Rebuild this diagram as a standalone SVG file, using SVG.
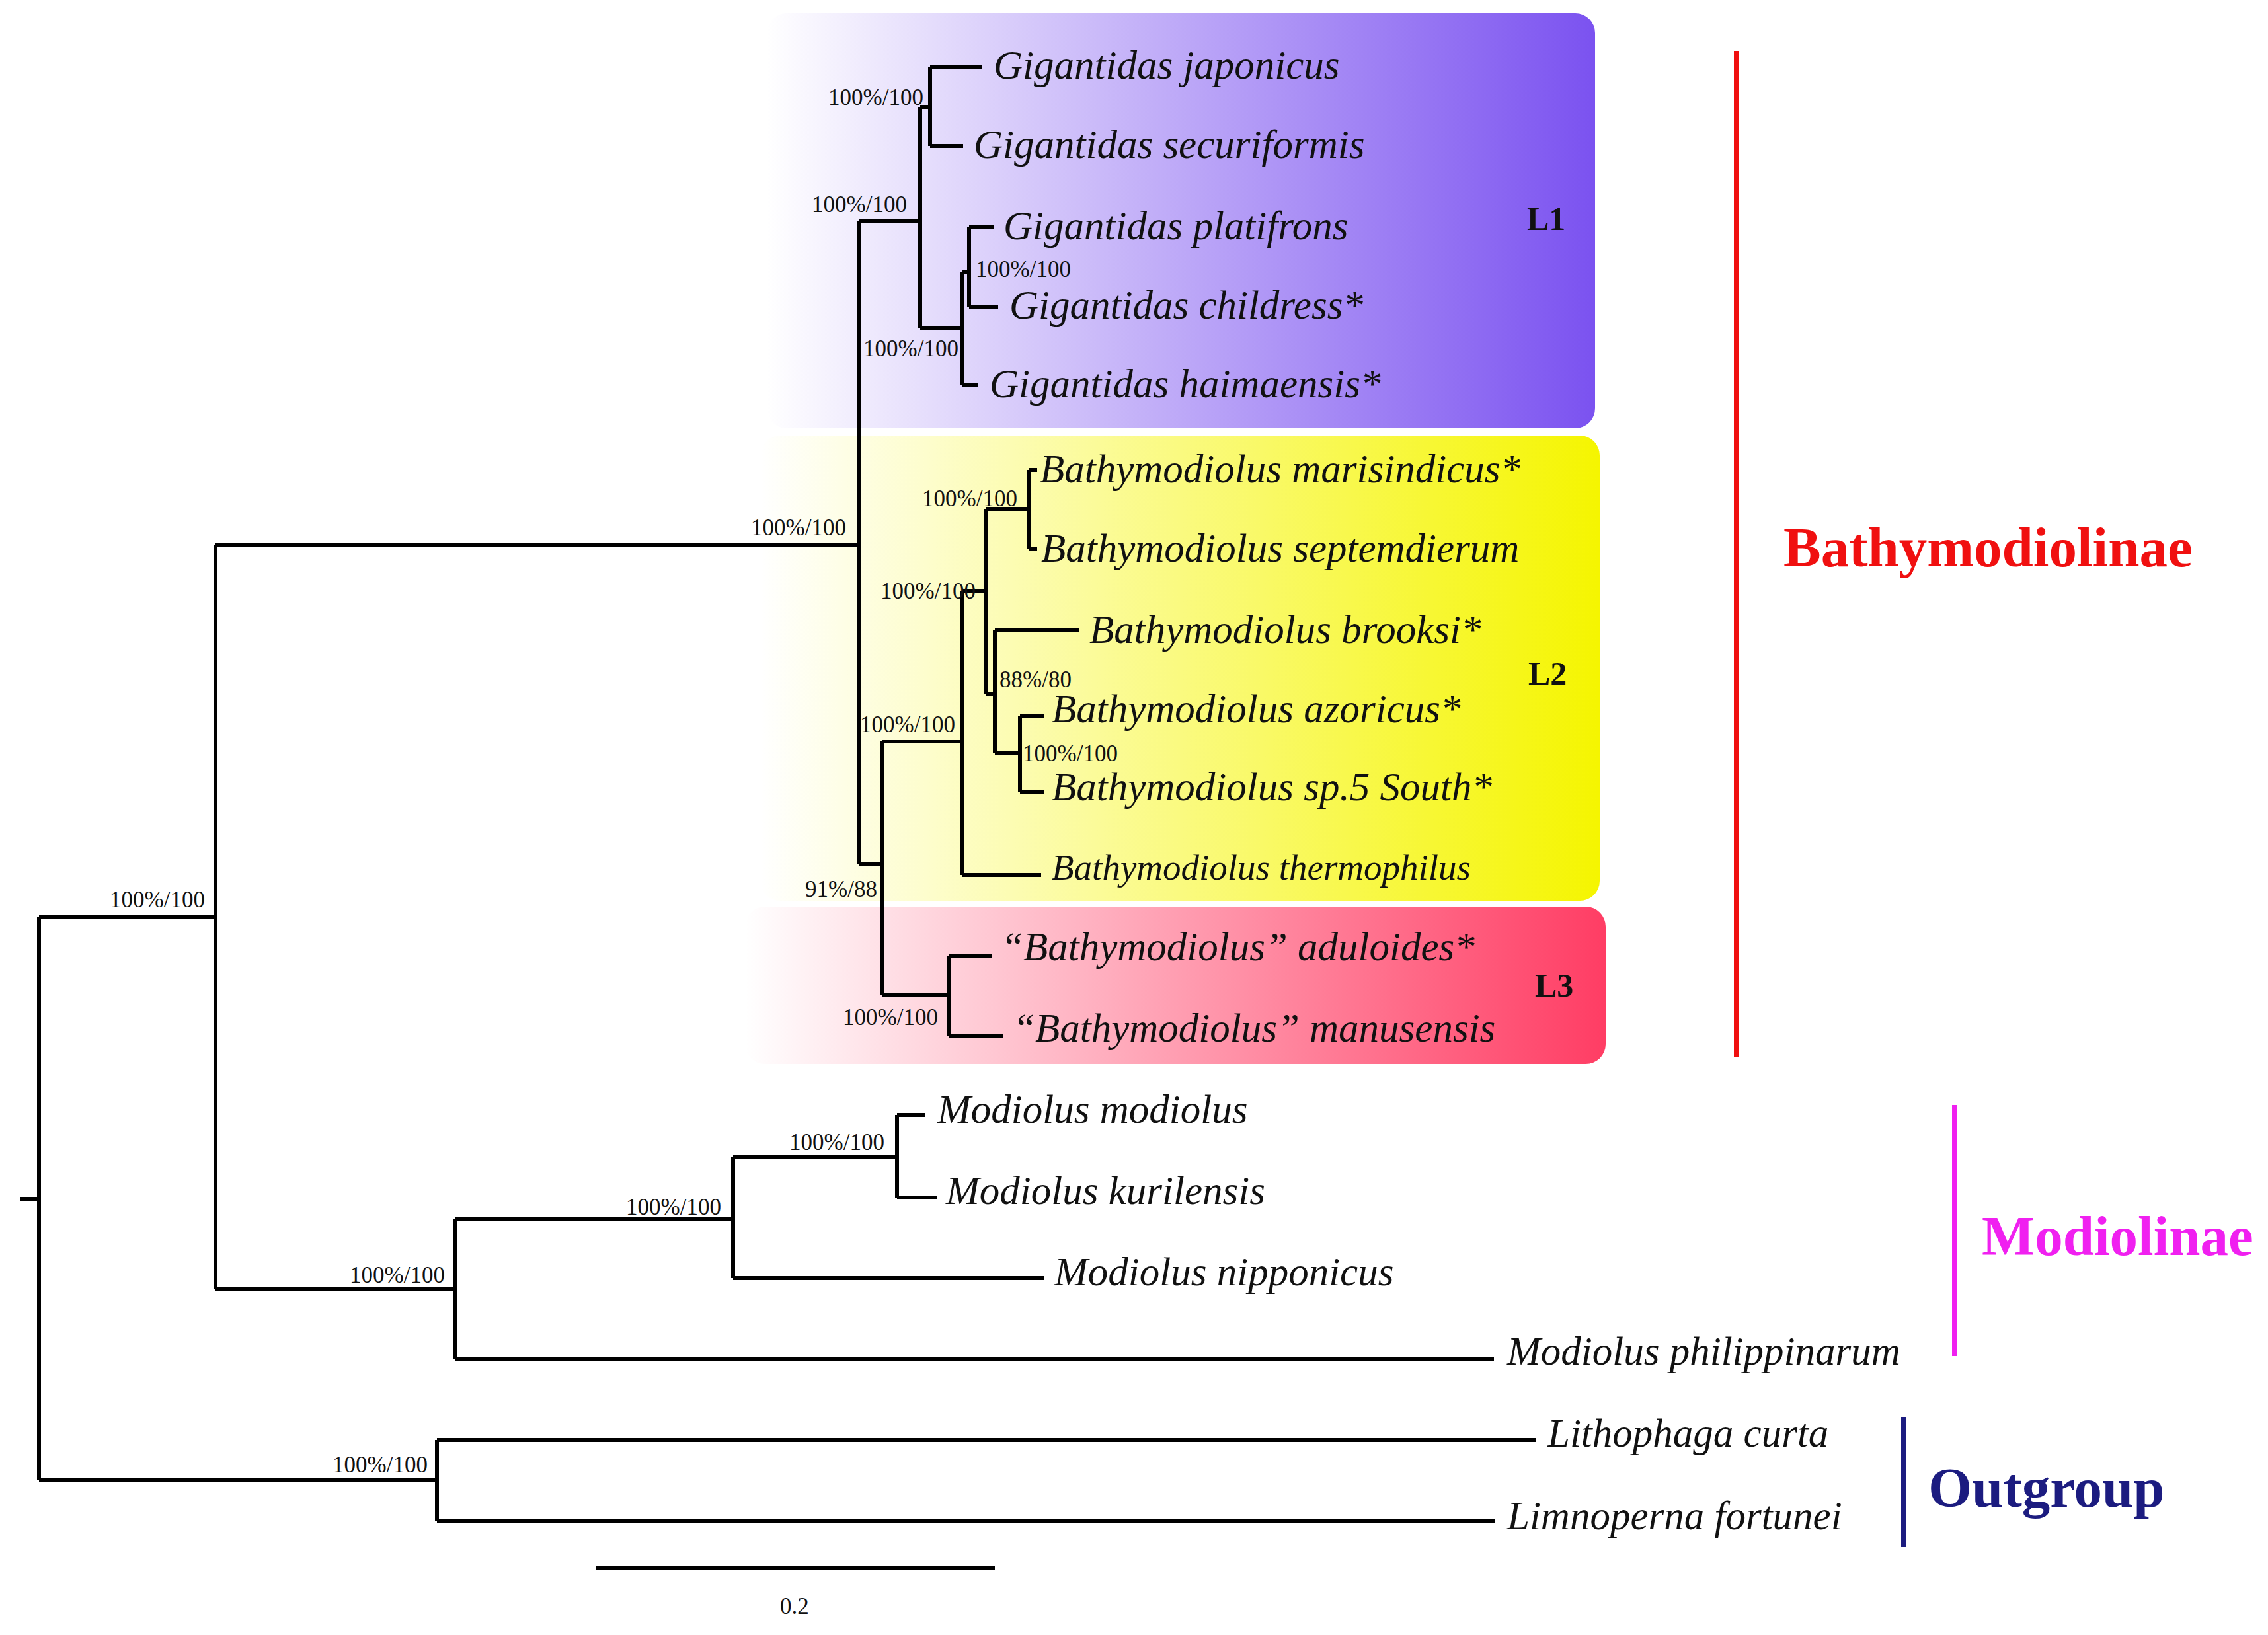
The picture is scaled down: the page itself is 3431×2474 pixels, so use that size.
<svg xmlns="http://www.w3.org/2000/svg" width="3431" height="2474" viewBox="0 0 3431 2474">
<style>
.t{font-family:"Liberation Serif",serif;font-style:italic;font-size:61px;fill:#111}
.s{font-family:"Liberation Serif",serif;font-size:35px;fill:#111}
.c{font-family:"Liberation Serif",serif;font-weight:bold;font-size:50px;fill:#111}
.e path{fill:none;stroke:#000;stroke-width:6}
.b{font-family:"Liberation Serif",serif;font-weight:bold;font-size:85px}
</style>
<defs>
<linearGradient id="g1" x1="0" y1="0" x2="1" y2="0"><stop offset="0" stop-color="#7b52f0" stop-opacity="0"/><stop offset="1" stop-color="#7b52f0"/></linearGradient>
<linearGradient id="g2" x1="0" y1="0" x2="1" y2="0"><stop offset="0" stop-color="#f5f500" stop-opacity="0"/><stop offset="1" stop-color="#f5f500"/></linearGradient>
<linearGradient id="g3" x1="0" y1="0" x2="1" y2="0"><stop offset="0" stop-color="#ff3d64" stop-opacity="0"/><stop offset="1" stop-color="#ff3d64"/></linearGradient>
</defs>
<rect width="3431" height="2474" fill="#fff"/>
<g id="L1box"><rect x="1160" y="20" width="1253" height="628" rx="30" fill="url(#g1)"/><text class="c" x="2310" y="348">L1</text></g>
<g id="L2box"><rect x="1150" y="659" width="1270" height="704" rx="30" fill="url(#g2)"/><text class="c" x="2312" y="1036">L2</text></g>
<g id="L3box"><rect x="1127" y="1372" width="1302" height="238" rx="30" fill="url(#g3)"/><text class="c" x="2322" y="1508">L3</text></g>
<g id="edges" class="e">
<path d="M31 1814H59M59 1387V2240M59 1387H326M326 825V1950M326 825H1300M1300 335V1308"/>
<path d="M1300 335H1392M1392 162V497M1392 162H1407M1407 101V221M1407 101H1486M1407 221H1457"/>
<path d="M1392 497H1455M1455 411V582M1455 411H1466M1466 344V464M1466 344H1503M1466 464H1510M1455 582H1479"/>
<path d="M1300 1308H1335M1335 1122V1505M1335 1122H1455M1455 895V1324M1455 895H1492M1492 770V1050"/>
<path d="M1492 770H1556M1556 711V831M1556 711H1569M1556 831H1569M1492 1050H1505M1505 954V1140M1505 954H1632M1505 1140H1543M1543 1083V1199M1543 1083H1580M1543 1199H1580M1455 1324H1575"/>
<path d="M1335 1505H1435M1435 1446V1567M1435 1446H1501M1435 1567H1518"/>
<path d="M326 1950H689M689 1845V2057M689 1845H1109M1109 1750V1934M1109 1750H1357M1357 1687V1812M1357 1687H1400M1357 1812H1418M1109 1934H1580M689 2057H2260"/>
<path d="M59 2240H661M661 2179V2302M661 2179H2324M661 2302H2262"/>
<path d="M901 2372H1505"/>
</g>
<g id="supports">
<text class="s" x="1253" y="159">100%/100</text>
<text class="s" x="1228" y="321">100%/100</text>
<text class="s" x="1476" y="419">100%/100</text>
<text class="s" x="1306" y="539">100%/100</text>
<text class="s" x="1136" y="810">100%/100</text>
<text class="s" x="1395" y="766">100%/100</text>
<text class="s" x="1332" y="906">100%/100</text>
<text class="s" x="1512" y="1040">88%/80</text>
<text class="s" x="1301" y="1108">100%/100</text>
<text class="s" x="1547" y="1152">100%/100</text>
<text class="s" x="1218" y="1357">91%/88</text>
<text class="s" x="1275" y="1551">100%/100</text>
<text class="s" x="166" y="1373">100%/100</text>
<text class="s" x="1194" y="1740">100%/100</text>
<text class="s" x="947" y="1838">100%/100</text>
<text class="s" x="529" y="1941">100%/100</text>
<text class="s" x="503" y="2228">100%/100</text>
<text class="s" x="1180" y="2442">0.2</text>
</g>
<g id="taxa">
<text class="t" x="1503" y="119">Gigantidas japonicus</text>
<text class="t" x="1473" y="239">Gigantidas securiformis</text>
<text class="t" x="1518" y="362">Gigantidas platifrons</text>
<text class="t" x="1527" y="482">Gigantidas childress*</text>
<text class="t" x="1497" y="601">Gigantidas haimaensis*</text>
<text class="t" x="1573" y="730">Bathymodiolus marisindicus*</text>
<text class="t" x="1575" y="850">Bathymodiolus septemdierum</text>
<text class="t" x="1648" y="973">Bathymodiolus brooksi*</text>
<text class="t" x="1591" y="1093">Bathymodiolus azoricus*</text>
<text class="t" x="1591" y="1211">Bathymodiolus sp.5 South*</text>
<text class="t" x="1591" y="1331" style="font-size:55px">Bathymodiolus thermophilus</text>
<text class="t" x="1514" y="1453">“Bathymodiolus” aduloides*</text>
<text class="t" x="1532" y="1576">“Bathymodiolus” manusensis</text>
<text class="t" x="1418" y="1699">Modiolus modiolus</text>
<text class="t" x="1431" y="1822">Modiolus kurilensis</text>
<text class="t" x="1595" y="1945">Modiolus nipponicus</text>
<text class="t" x="2280" y="2065">Modiolus philippinarum</text>
<text class="t" x="2341" y="2189">Lithophaga curta</text>
<text class="t" x="2280" y="2314">Limnoperna fortunei</text>
</g>
<g id="clades">
<rect x="2623" y="77" width="7" height="1522" fill="#f01010"/>
<text class="b" x="2698" y="857" fill="#f01010">Bathymodiolinae</text>
<rect x="2953" y="1672" width="7" height="380" fill="#f020f0"/>
<text class="b" x="2998" y="1899" fill="#f020f0">Modiolinae</text>
<rect x="2876" y="2144" width="8" height="197" fill="#1c1c80"/>
<text class="b" x="2917" y="2280" fill="#1c1c80">Outgroup</text>
</g>
</svg>
